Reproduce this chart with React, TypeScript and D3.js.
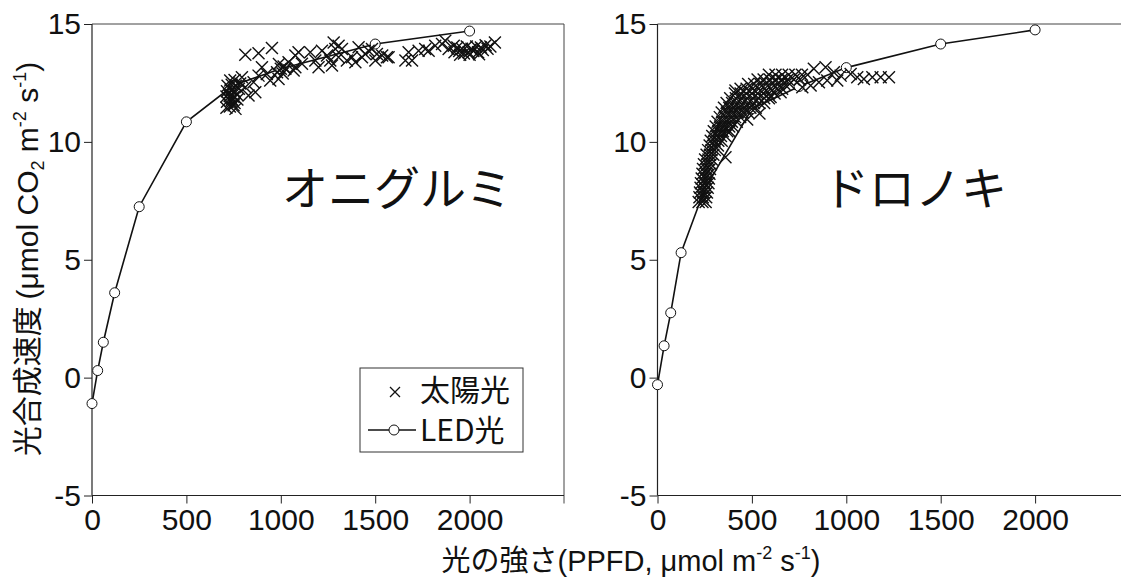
import * as d3 from "d3";
import React, { useRef, useEffect } from "react";

const W = 1121;
const H = 580;

// LED light response curves (PPFD, net photosynthesis)
const ledPpfdOni = [0, 30, 60, 120, 250, 500, 750, 1000, 1500, 2000];
const ledRateOni = [-1.1, 0.3, 1.5, 3.6, 7.25, 10.85, 12.4, 13.1, 14.15, 14.7];
const ledPpfdDoro = [0, 35, 70, 125, 250, 500, 750, 1000, 1500, 2000];
const ledRateDoro = [-0.3, 1.35, 2.75, 5.3, 8.0, 11.4, 12.35, 13.15, 14.15, 14.75];

// sunlight measurements [PPFD, rate]
const sunOni: [number, number][] = [
  [712, 11.45], [730, 11.5], [750, 11.55], [715, 11.7], [735, 11.72], [755, 11.65],
  [770, 11.8], [712, 11.92], [730, 11.95], [750, 11.9], [768, 12.0], [715, 12.15],
  [735, 12.2], [755, 12.15], [778, 12.25], [718, 12.38], [740, 12.42], [762, 12.38],
  [785, 12.48], [732, 12.6], [755, 12.62], [725, 12.05], [742, 11.8], [760, 11.4],
  [794, 12.74], [812, 12.32], [856, 12.53], [865, 12.11], [829, 11.97], [900, 13.17],
  [926, 12.88], [882, 12.81], [944, 12.6], [988, 12.67], [1024, 13.1], [1041, 13.38],
  [1112, 13.31], [1077, 13.17], [1183, 13.45], [1271, 13.24], [1306, 13.59], [1324, 13.94],
  [1377, 13.59], [1465, 13.87], [1501, 13.45], [1571, 13.59], [1537, 13.66],
  [812, 13.7], [882, 13.76], [953, 13.98], [1077, 13.66], [1094, 13.8], [1068, 13.03],
  [1156, 13.8], [1218, 13.87], [1245, 13.66], [1200, 13.17], [1262, 13.45], [1280, 14.22],
  [1289, 13.94], [1306, 14.08], [1350, 13.45], [1412, 14.01], [1430, 13.59], [1447, 13.73],
  [1483, 13.94], [1509, 13.73], [1395, 13.38], [1562, 13.59],
  [980, 12.95], [1000, 13.1], [1010, 12.9], [990, 13.3], [1015, 13.2],
  [1660, 13.45], [1677, 13.8], [1695, 13.45], [1730, 13.87], [1765, 13.94], [1783, 13.87],
  [1818, 14.08], [1854, 14.15], [1871, 14.29], [1889, 13.94], [1916, 14.08],
  [1920, 13.8], [1945, 13.85], [1970, 13.75], [1995, 13.8], [2020, 13.85], [2045, 13.8],
  [2070, 13.9], [2095, 13.95], [1935, 14.0], [1960, 13.95], [1985, 14.05], [2010, 13.95],
  [2035, 14.05], [2060, 14.0], [2085, 14.1], [2110, 14.05], [2134, 14.22], [1950, 13.7],
  [2000, 13.7], [2050, 13.72],
];

const sunDoro: [number, number][] = [
  [218, 7.45], [238, 7.45], [255, 7.45],
  [222, 7.65], [240, 7.65], [258, 7.65],
  [225, 7.85], [244, 7.85], [262, 7.85],
  [228, 8.05], [248, 8.05], [266, 8.05],
  [230, 8.25], [250, 8.25], [270, 8.25],
  [234, 8.45], [254, 8.45], [272, 8.45],
  [238, 8.65], [257, 8.65], [275, 8.65],
  [241, 8.85], [260, 8.85], [278, 8.85],
  [246, 9.05], [265, 9.05], [283, 9.05],
  [252, 9.25], [270, 9.25], [288, 9.25],
  [260, 9.45], [278, 9.45], [296, 9.45],
  [268, 9.65], [286, 9.65], [304, 9.65],
  [276, 9.85], [298, 9.85], [320, 9.85],
  [282, 10.05], [302, 10.05], [322, 10.05], [340, 10.05],
  [290, 10.25], [313, 10.25], [336, 10.25], [360, 10.25],
  [298, 10.45], [322, 10.45], [346, 10.45], [370, 10.45], [382, 10.45],
  [308, 10.65], [332, 10.65], [356, 10.65], [380, 10.65], [400, 10.65],
  [318, 10.85], [343, 10.85], [368, 10.85], [394, 10.85], [420, 10.85],
  [330, 11.05], [357, 11.05], [384, 11.05], [411, 11.05], [438, 11.05],
  [340, 11.25], [368, 11.25], [396, 11.25], [424, 11.25], [452, 11.25], [480, 11.25],
  [352, 11.45], [380, 11.45], [408, 11.45], [436, 11.45], [464, 11.45], [492, 11.45], [520, 11.45],
  [366, 11.65], [395, 11.65], [424, 11.65], [453, 11.65], [482, 11.65], [511, 11.65], [540, 11.65], [565, 11.65],
  [385, 11.85], [415, 11.85], [445, 11.85], [475, 11.85], [505, 11.85], [535, 11.85], [565, 11.85], [590, 11.85],
  [410, 12.05], [440, 12.05], [470, 12.05], [500, 12.05], [530, 12.05], [560, 12.05], [590, 12.05], [620, 12.05],
  [440, 12.25], [472, 12.25], [504, 12.25], [536, 12.25], [568, 12.25], [600, 12.25], [632, 12.25], [660, 12.25],
  [480, 12.45], [512, 12.45], [544, 12.45], [576, 12.45], [608, 12.45], [640, 12.45], [672, 12.45], [700, 12.45],
  [530, 12.65], [562, 12.65], [594, 12.65], [626, 12.65], [658, 12.65], [690, 12.65], [722, 12.65], [755, 12.65],
  [590, 12.85], [625, 12.85], [660, 12.85], [695, 12.85], [730, 12.85], [765, 12.85], [795, 12.85],
  [360, 9.35], [475, 10.95], [540, 11.2], [599, 11.9], [652, 12.1], [413, 12.18],
  [767, 12.32], [811, 12.39], [855, 12.53], [899, 12.6], [952, 12.6],
  [828, 13.1], [890, 13.17], [934, 12.95], [970, 12.81], [1023, 12.88], [1058, 12.74],
  [1093, 12.67], [1138, 12.74], [1182, 12.74], [1226, 12.74],
];

const xTicks = [0, 500, 1000, 1500, 2000];
const yTicks = [-5, 0, 5, 10, 15];
const speciesNames = ["オニグルミ", "ドロノキ"];
const legendLabels = ["太陽光", "LED光"];

const NUM_FONT = "'Liberation Sans', Arial, sans-serif";
const JP_FONT = "'Noto Sans CJK JP', 'Liberation Sans', sans-serif";
const TOP = 24;
const BOTTOM = 495.5;

const drawPanel = (svg, opts) => {
  const { left, right, ledX, ledY, sun, name, nameX } = opts;
  const x = d3.scaleLinear().domain([0, 2500]).range([left, right]);
  const y = d3.scaleLinear().domain([-5, 15]).range([BOTTOM, TOP]);
  const g = svg.append("g");

  // frame (top and right sides)
  g.append("line")
    .attr("x1", left).attr("x2", right)
    .attr("y1", TOP).attr("y2", TOP)
    .style("stroke", "#444").style("stroke-width", 1);
  g.append("line")
    .attr("x1", right).attr("x2", right)
    .attr("y1", TOP).attr("y2", BOTTOM + 8)
    .style("stroke", "#444").style("stroke-width", 1);

  const xAxis = d3.axisBottom(x).tickValues(xTicks).tickSize(8).tickPadding(5)
    .tickFormat((d) => String(d));
  const yAxis = d3.axisLeft(y).tickValues(yTicks).tickSize(8).tickPadding(3)
    .tickFormat((d) => String(d));

  const gx = g.append("g").attr("transform", "translate(0," + BOTTOM + ")").call(xAxis);
  const gy = g.append("g").attr("transform", "translate(" + left + ",0)").call(yAxis);
  [gx, gy].forEach((a) => {
    a.select(".domain").style("stroke", "#222").style("stroke-width", 1.2);
    a.selectAll(".tick line").style("stroke", "#222");
    a.selectAll("text")
      .style("font-family", NUM_FONT)
      .style("font-size", "30px")
      .style("fill", "#111");
  });
  gx.select(".domain").attr("d", "M" + left + ",0H" + right);
  gy.select(".domain").attr("d", "M0," + TOP + "V" + BOTTOM);

  const pts = ledX.map((v, i) => [v, ledY[i]]);
  const line = d3.line().x((d) => x(d[0])).y((d) => y(d[1]));
  g.append("path")
    .datum(pts)
    .attr("d", line)
    .style("fill", "none")
    .style("stroke", "#111")
    .style("stroke-width", 1.6);

  g.selectAll(".led")
    .data(pts)
    .enter()
    .append("circle")
    .attr("cx", (d) => x(d[0]))
    .attr("cy", (d) => y(d[1]))
    .attr("r", 5)
    .style("fill", "white")
    .style("stroke", "#111")
    .style("stroke-width", 1);

  g.selectAll(".sun")
    .data(sun)
    .enter()
    .append("path")
    .attr("transform", (d) => "translate(" + x(d[0]) + "," + y(d[1]) + ")")
    .attr("d", "M-6,-6L6,6M-6,6L6,-6")
    .style("fill", "none")
    .style("stroke", "#111")
    .style("stroke-width", 1.4);

  g.append("text")
    .attr("x", nameX)
    .attr("y", 205)
    .style("font-family", JP_FONT)
    .style("font-size", "46px")
    .style("fill", "#111")
    .text(name);
};

const draw = (el) => {
  const svg = d3.select(el).append("svg").attr("width", W).attr("height", H);
  svg.append("rect").attr("width", W).attr("height", H).style("fill", "white");

  drawPanel(svg, {
    left: 92, right: 564,
    ledX: ledPpfdOni, ledY: ledRateOni, sun: sunOni,
    name: speciesNames[0], nameX: 282,
  });
  drawPanel(svg, {
    left: 657.5, right: 1129.5,
    ledX: ledPpfdDoro, ledY: ledRateDoro, sun: sunDoro,
    name: speciesNames[1], nameX: 823,
  });

  // y axis title
  const yt = svg.append("text")
    .attr("transform", "translate(38,259) rotate(-90)")
    .attr("text-anchor", "middle")
    .style("font-family", JP_FONT)
    .style("font-size", "30px")
    .style("fill", "#111");
  yt.append("tspan").text("光合成速度  ");
  yt.append("tspan").style("font-family", NUM_FONT).text("(μmol CO");
  yt.append("tspan").style("font-family", NUM_FONT).style("font-size", "18px").attr("dy", 6).text("2");
  yt.append("tspan").style("font-family", NUM_FONT).attr("dy", -6).text(" m");
  yt.append("tspan").style("font-family", NUM_FONT).style("font-size", "18px").attr("dy", -12).text("-2");
  yt.append("tspan").style("font-family", NUM_FONT).attr("dy", 12).text(" s");
  yt.append("tspan").style("font-family", NUM_FONT).style("font-size", "18px").attr("dy", -12).text("-1");
  yt.append("tspan").style("font-family", NUM_FONT).attr("dy", 12).text(")");

  // x axis title
  const xt = svg.append("text")
    .attr("x", 631)
    .attr("y", 571)
    .attr("text-anchor", "middle")
    .style("font-family", JP_FONT)
    .style("font-size", "29px")
    .style("fill", "#111");
  xt.append("tspan").text("光の強さ");
  xt.append("tspan").style("font-family", NUM_FONT).text("(PPFD, μmol m");
  xt.append("tspan").style("font-family", NUM_FONT).style("font-size", "18px").attr("dy", -12).text("-2");
  xt.append("tspan").style("font-family", NUM_FONT).attr("dy", 12).text(" s");
  xt.append("tspan").style("font-family", NUM_FONT).style("font-size", "18px").attr("dy", -12).text("-1");
  xt.append("tspan").style("font-family", NUM_FONT).attr("dy", 12).text(")");

  // legend
  const lg = svg.append("g");
  lg.append("rect")
    .attr("x", 360).attr("y", 368).attr("width", 163).attr("height", 84)
    .style("fill", "white").style("stroke", "#333").style("stroke-width", 1);
  lg.append("path")
    .attr("d", "M390,387L400,397M390,397L400,387")
    .style("stroke", "#111").style("stroke-width", 1.3);
  lg.append("line")
    .attr("x1", 368).attr("x2", 416).attr("y1", 430).attr("y2", 430)
    .style("stroke", "#111").style("stroke-width", 1.6);
  lg.append("circle")
    .attr("cx", 394).attr("cy", 430).attr("r", 5)
    .style("fill", "white").style("stroke", "#111");
  lg.selectAll(".lt")
    .data(legendLabels)
    .enter()
    .append("text")
    .attr("x", 420)
    .attr("y", (d, i) => 401 + i * 40)
    .style("font-family", JP_FONT)
    .style("font-size", "30px")
    .style("fill", "#111")
    .text((d) => d);
};

const App = () => {
  const ref = useRef(null);
  useEffect(() => {
    if (ref.current && ref.current.childNodes.length === 0) draw(ref.current);
  }, []);
  return <div ref={ref} style={{ position: "absolute", left: 0, top: 0, width: W, height: H }}></div>;
};

export default App;
